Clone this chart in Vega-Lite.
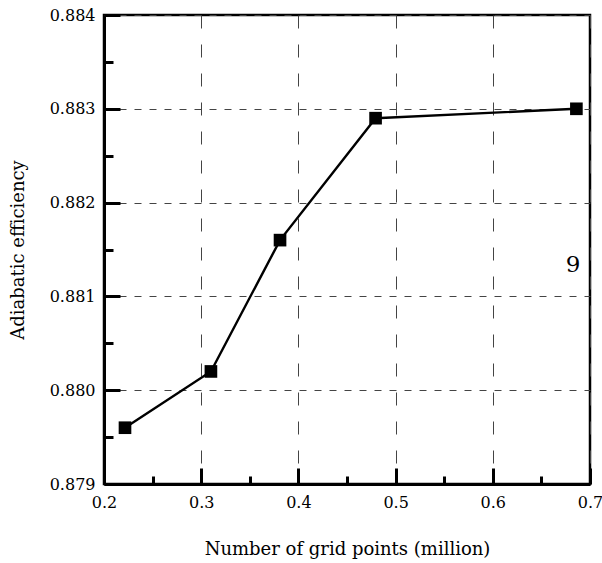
{
  "$schema": "https://vega.github.io/schema/vega-lite/v6.json",
  "width": 486,
  "height": 469,
  "autosize": {"type": "none"},
  "padding": {"left": 104, "top": 15, "right": 12, "bottom": 79},
  "background": "white",
  "config": {
    "view": {"stroke": "black", "strokeWidth": 2.5},
    "font": "DejaVu Serif"
  },
  "datasets": {
    "pts": [
      {"grid": 0.2216, "eff": 0.8796},
      {"grid": 0.3100, "eff": 0.8802},
      {"grid": 0.3811, "eff": 0.8816},
      {"grid": 0.4794, "eff": 0.8829},
      {"grid": 0.6860, "eff": 0.8830}
    ],
    "lbl": [{"grid": 0.6825, "eff": 0.88134, "text": "9"}]
  },
  "layer": [
    {
      "data": {"name": "pts"},
      "mark": {"type": "line", "color": "black", "strokeWidth": 2.4},
      "encoding": {
        "x": {
          "field": "grid", "type": "quantitative",
          "scale": {"domain": [0.2, 0.7], "nice": false, "zero": false},
          "axis": {
            "title": "Number of grid points (million)",
            "titleFont": "DejaVu Serif", "titleFontSize": 18, "titleFontWeight": "normal", "titleColor": "black",
            "titlePadding": 30,
            "values": [0.2, 0.25, 0.3, 0.35, 0.4, 0.45, 0.5, 0.55, 0.6, 0.65, 0.7],
            "labelExpr": "abs(datum.value*10 - round(datum.value*10)) < 0.01 ? format(datum.value, '.1f') : ''",
            "labelFont": "DejaVu Serif", "labelFontSize": 16, "labelColor": "black", "labelPadding": 26,
            "labelFlush": false,
            "tickSize": {"condition": {"test": "abs(datum.value*10 - round(datum.value*10)) < 0.01", "value": -16}, "value": -8},
            "tickWidth": 3, "tickColor": "black",
            "domainColor": "black", "domainWidth": 3,
            "grid": true,
            "gridColor": "#444",
            "gridWidth": 1,
            "gridDash": [13, 16],
            "gridOpacity": {"condition": {"test": "abs(datum.value*10 - round(datum.value*10)) < 0.01", "value": 1}, "value": 0}
          }
        },
        "y": {
          "field": "eff", "type": "quantitative",
          "scale": {"domain": [0.879, 0.884], "nice": false, "zero": false},
          "axis": {
            "title": "Adiabatic efficiency",
            "titleFont": "DejaVu Serif", "titleFontSize": 18, "titleFontWeight": "normal", "titleColor": "black",
            "titlePadding": 22,
            "values": [0.879, 0.8795, 0.88, 0.8805, 0.881, 0.8815, 0.882, 0.8825, 0.883, 0.8835, 0.884],
            "labelExpr": "abs(datum.value*1000 - round(datum.value*1000)) < 0.01 ? format(datum.value, '.3f') : ''",
            "labelFont": "DejaVu Serif", "labelFontSize": 16, "labelColor": "black", "labelPadding": 25,
            "labelFlush": false,
            "tickSize": {"condition": {"test": "abs(datum.value*1000 - round(datum.value*1000)) < 0.01", "value": -16}, "value": -9},
            "tickWidth": 3, "tickColor": "black",
            "domainColor": "black", "domainWidth": 3,
            "grid": true,
            "gridColor": "#444",
            "gridWidth": 1,
            "gridDash": [7, 8],
            "gridOpacity": {"condition": {"test": "abs(datum.value*1000 - round(datum.value*1000)) < 0.01", "value": 1}, "value": 0}
          }
        }
      }
    },
    {
      "data": {"name": "pts"},
      "mark": {"type": "square", "color": "black", "filled": true, "opacity": 1, "size": 160},
      "encoding": {
        "x": {"field": "grid", "type": "quantitative"},
        "y": {"field": "eff", "type": "quantitative"}
      }
    },
    {
      "data": {"name": "lbl"},
      "mark": {"type": "text", "font": "DejaVu Serif", "fontSize": 23, "color": "black", "align": "center", "baseline": "middle"},
      "encoding": {
        "x": {"field": "grid", "type": "quantitative"},
        "y": {"field": "eff", "type": "quantitative"},
        "text": {"field": "text"}
      }
    }
  ]
}
